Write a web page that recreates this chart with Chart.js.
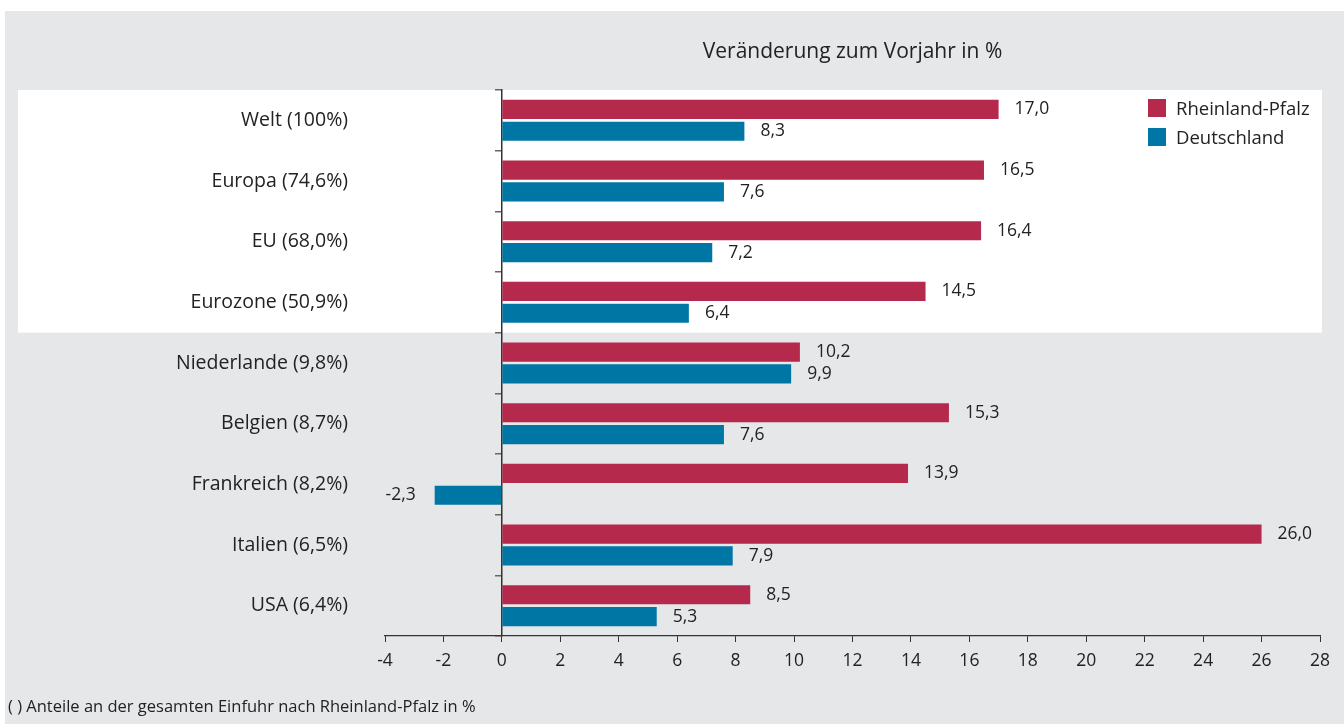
<!DOCTYPE html>
<html>
<head>
<meta charset="utf-8">
<script src="https://cdn.jsdelivr.net/npm/chart.js@4.4.0/dist/chart.umd.min.js"></script>
<style>
  body { margin: 0; background: #fff; font-family: "Open Sans", sans-serif; }
  #box { position: absolute; left: 5px; top: 11px; width: 1339px; height: 713px; background: #e6e7e9; }
  #box canvas { position: absolute; left: 0; top: 0; }
  .leg { position: absolute; left: 1143px; font-size: 18.5px; color: #222; height: 18px; line-height: 18px; }
  .leg span { display: inline-block; width: 18px; height: 18px; vertical-align: top; margin-right: 10px; }
  #note { position: absolute; left: 3px; top: 683px; font-size: 16.5px; color: #222; }
</style>
</head>
<body>
<div id="box">
  <canvas id="chart" width="1339" height="713"></canvas>
  <div class="leg" style="top:88px"><span style="background:#b52a4c"></span>Rheinland-Pfalz</div>
  <div class="leg" style="top:117px"><span style="background:#0076a4"></span>Deutschland</div>
  <div id="note">( ) Anteile an der gesamten Einfuhr nach Rheinland-Pfalz in %</div>
</div>
<script>
// Kategorien und Werte (Veränderung zum Vorjahr in %)
const categories = ['Welt (100%)', 'Europa (74,6%)', 'EU (68,0%)', 'Eurozone (50,9%)',
  'Niederlande (9,8%)', 'Belgien (8,7%)', 'Frankreich (8,2%)', 'Italien (6,5%)', 'USA (6,4%)'];
const rheinlandPfalz = [17.0, 16.5, 16.4, 14.5, 10.2, 15.3, 13.9, 26.0, 8.5];
const deutschland = [8.3, 7.6, 7.2, 6.4, 9.9, 7.6, -2.3, 7.9, 5.3];
const xMin = -4, xMax = 28, xStep = 2;

const fontFamily = '"Open Sans", sans-serif';
const textColor = '#222';

// weisser Hintergrund hinter den Aggregaten (erste 4 Zeilen)
const whiteBand = {
  id: 'whiteBand',
  beforeDraw(chart) {
    const y = chart.scales.y;
    const ctx = chart.ctx;
    const half = (y.getPixelForValue(1) - y.getPixelForValue(0)) / 2;
    const top = y.getPixelForValue(0) - half;
    const bottom = y.getPixelForValue(3) + half;
    ctx.save();
    ctx.fillStyle = '#ffffff';
    ctx.fillRect(13, top, 1304, bottom - top);
    ctx.restore();
  }
};

// Werte neben den Balken
const valueLabels = {
  id: 'valueLabels',
  afterDatasetsDraw(chart) {
    const ctx = chart.ctx;
    ctx.save();
    ctx.font = '17.5px ' + fontFamily;
    ctx.fillStyle = textColor;
    ctx.textBaseline = 'middle';
    chart.data.datasets.forEach(function (ds, i) {
      chart.getDatasetMeta(i).data.forEach(function (bar, j) {
        const v = ds.data[j];
        const txt = v.toFixed(1).replace('.', ',');
        if (v >= 0) {
          ctx.textAlign = 'left';
          ctx.fillText(txt, bar.x + 16, bar.y);
        } else {
          ctx.textAlign = 'right';
          ctx.fillText(txt, bar.x - 19, bar.y);
        }
      });
    });
    ctx.restore();
  }
};

new Chart(document.getElementById('chart'), {
  type: 'bar',
  data: {
    labels: categories,
    datasets: [
      { label: 'Rheinland-Pfalz', data: rheinlandPfalz, backgroundColor: '#b52a4c' },
      { label: 'Deutschland', data: deutschland, backgroundColor: '#0076a4' }
    ]
  },
  options: {
    indexAxis: 'y',
    responsive: false,
    animation: false,
    categoryPercentage: 0.72,
    barPercentage: 0.88,
    layout: { padding: { left: 0, right: 24, top: 0, bottom: 0 } },
    plugins: {
      legend: { display: false },
      tooltip: { enabled: false },
      title: {
        display: true,
        fullSize: false,
        text: 'Veränderung zum Vorjahr in %',
        color: textColor,
        font: { family: fontFamily, size: 21, weight: 'normal', lineHeight: 1.2 },
        padding: { top: 28, bottom: 25.8 }
      }
    },
    scales: {
      x: {
        min: xMin,
        max: xMax,
        ticks: { stepSize: xStep, color: textColor, padding: 9, font: { family: fontFamily, size: 17.5 } },
        grid: { drawOnChartArea: false, tickLength: 6, tickColor: '#333' },
        border: { color: '#333', width: 1.2 },
        afterFit(scale) { scale.height = 88; }
      },
      y: {
        ticks: { color: textColor, padding: 29, font: { family: fontFamily, size: 19.5 } },
        grid: { display: false },
        border: { display: false },
        afterFit(scale) { scale.width = 380; }
      },
      y0: {
        axis: 'y',
        type: 'category',
        position: { x: 0 },
        offset: true,
        ticks: { display: false },
        grid: { drawOnChartArea: false, tickLength: 6, color: '#666', lineWidth: 1.5 },
        border: { color: '#333', width: 1.5 }
      }
    }
  },
  plugins: [whiteBand, valueLabels]
});
</script>
</body>
</html>
